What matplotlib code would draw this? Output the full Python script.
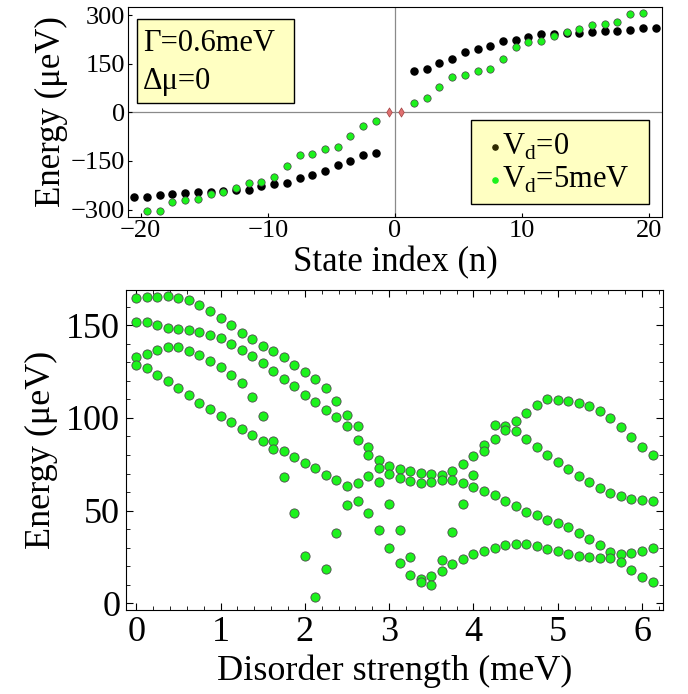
import numpy as np
import matplotlib
matplotlib.use('Agg')
import matplotlib.pyplot as plt
from matplotlib.patches import Rectangle
from matplotlib.ticker import MultipleLocator

plt.rcParams['font.family'] = ['Liberation Serif', 'DejaVu Serif']
plt.rcParams['mathtext.fontset'] = 'custom'
plt.rcParams['mathtext.rm'] = 'Liberation Serif'

# ---- top panel: energy spectrum vs state index ----
# states sit at half-integer indices, the two zero modes at +-0.5
n_black_neg = np.arange(-20.5, -1.0, 1.0)
n_black_pos = np.arange(1.5, 21.0, 1.0)
n_green_neg = np.arange(-19.5, -1.0, 1.0)
n_green_pos = np.arange(1.5, 20.0, 1.0)
n_zero = [-0.5, 0.5]

E_black_neg = [-260, -260, -255, -251, -249, -247, -245, -243, -241, -239,
               -226, -222, -217, -203, -193, -182, -164, -150, -131, -126]
E_black_pos = [128, 133, 152, 165, 185, 195, 205, 219, 222, 231,
               242, 243, 245, 244, 249, 251, 252, 255, 260, 261]
E_green_neg = [-303, -303, -276, -270, -268, -252, -245, -235, -219, -216,
               -200, -165, -131, -128, -114, -106, -74, -42, -27]
E_green_pos = [28, 43, 78, 110, 114, 129, 133, 166, 202, 217,
               221, 237, 247, 258, 270, 272, 279, 304, 306]
E_zero = [0, 0]

# ---- bottom panel: lowest four levels vs disorder strength ----
disorder = np.arange(50) * 0.125  # meV

level1 = [164.9, 165.2, 165.4, 165.8, 164.9, 163.4, 160.7, 157.7, 154.1, 150.1,
          145.9, 142.7, 138.9, 136.0, 132.8, 128.6, 124.7, 121.1, 116.0, 109.4,
          101.8, 95.5, 84.5, 77.1, 73.9, 72.4, 71.5, 70.3, 69.7, 69.0,
          71.5, 75.1, 79.6, 85.2, 96.0, 95.9, 98.2, 102.7, 107.2, 110.3,
          109.9, 109.0, 108.1, 106.7, 104.0, 100.0, 95.1, 89.5, 84.5, 80.2]
level2 = [151.7, 151.7, 150.3, 148.6, 148.1, 147.4, 146.3, 144.7, 142.9, 139.8,
          136.6, 133.3, 129.4, 125.2, 121.1, 117.1, 112.6, 108.7, 104.5, 100.4,
          95.5, 87.9, 80.2, 73.0, 69.7, 67.6, 65.8, 64.7, 65.4, 66.8,
          66.8, 65.0, 69.0, 82.3, 88.6, 93.3, 92.8, 88.8, 84.5, 80.2,
          76.4, 72.4, 68.5, 65.2, 62.2, 59.5, 57.7, 56.2, 55.5, 55.3]
level3 = [133.0, 134.6, 136.9, 138.2, 138.0, 136.2, 133.7, 130.6, 127.4, 123.4,
          118.6, 111.2, 101.1, 87.7, 82.3, 78.7, 75.7, 72.8, 69.4, 66.5,
          63.2, 65.0, 68.5, 65.6, 53.7, 39.5, 24.9, 13.0, 15.0, 23.2,
          38.7, 53.7, 62.9, 60.7, 58.2, 55.3, 52.3, 49.5, 47.4, 45.2,
          43.2, 41.1, 38.2, 34.8, 31.4, 27.7, 26.5, 27.0, 28.3, 29.7]
level4 = [128.8, 127.0, 123.4, 119.8, 115.9, 112.3, 108.3, 104.7, 101.1, 97.8,
          94.2, 90.8, 87.7, 83.1, 67.9, 48.6, 25.4, 3.4, 18.6, 38.0,
          52.8, 55.0, 48.5, 39.5, 29.9, 22.0, 15.3, 11.7, 9.9, 17.5,
          21.1, 23.8, 26.5, 28.5, 30.1, 31.5, 31.9, 31.9, 30.8, 29.5,
          28.3, 26.7, 25.6, 24.9, 24.7, 24.3, 22.2, 18.2, 14.4, 11.7]

green = '#1cf21c'
box_yellow = '#ffffc2'

fig = plt.figure(figsize=(6.88, 6.94), dpi=100)

# top axes
ax1 = fig.add_axes([0.1860, 0.6873, 0.7762, 0.3026])
ax1.axhline(0, color='#8a8a8a', lw=0.9, zorder=1)
ax1.axvline(0, color='#8a8a8a', lw=0.9, zorder=1)
ax1.scatter(n_black_neg, E_black_neg, s=26, color='black', zorder=3)
ax1.scatter(n_black_pos, E_black_pos, s=26, color='black', zorder=3)
ax1.scatter(n_green_neg, E_green_neg, s=28, color=green, edgecolors='#444444',
            linewidths=0.5, zorder=4)
ax1.scatter(n_green_pos, E_green_pos, s=28, color=green, edgecolors='#444444',
            linewidths=0.5, zorder=4)
ax1.scatter(n_zero, E_zero, s=22, marker='d', color='#e07070', edgecolors='#a04040',
            linewidths=0.5, zorder=5)
ax1.set_xlim(-21, 21)
ax1.set_ylim(-323, 325)
ax1.set_xticks([-20, -10, 0, 10, 20])
ax1.set_yticks([-300, -150, 0, 150, 300])
ax1.tick_params(direction='in', length=3, labelsize=19, pad=2)
ax1.set_xlabel('State index (n)', fontsize=25, labelpad=3)
ax1.set_ylabel('Energy (μeV)', fontsize=25, labelpad=2)

# parameter box
ax1.add_patch(Rectangle((0.017, 0.543), 0.294, 0.40, transform=ax1.transAxes,
                        facecolor=box_yellow, edgecolor='black', lw=1.0, zorder=6))
ax1.text(0.028, 0.824, 'Γ=0.6meV', transform=ax1.transAxes, fontsize=22,
         va='center', ha='left', zorder=7)
ax1.text(0.028, 0.643, 'Δμ=0', transform=ax1.transAxes, fontsize=22,
         va='center', ha='left', zorder=7)

# legend box
ax1.add_patch(Rectangle((0.642, 0.062), 0.334, 0.40, transform=ax1.transAxes,
                        facecolor=box_yellow, edgecolor='black', lw=1.0, zorder=6))
ax1.scatter([0.688], [0.335], s=14, color='#2e2a00', transform=ax1.transAxes, zorder=7)
ax1.scatter([0.688], [0.176], s=14, color=green, transform=ax1.transAxes, zorder=7)
ax1.text(0.700, 0.335, r'V$_{\mathrm{d}}$=0', transform=ax1.transAxes, fontsize=22,
         va='center', ha='left', zorder=7)
ax1.text(0.700, 0.176, r'V$_{\mathrm{d}}$=5meV', transform=ax1.transAxes, fontsize=22,
         va='center', ha='left', zorder=7)

# bottom axes
ax2 = fig.add_axes([0.1827, 0.1210, 0.7805, 0.4611])
for lev in [level1, level2, level3, level4]:
    ax2.scatter(disorder, lev, s=44, color=green, edgecolors='#4a4a4a',
                linewidths=0.6, zorder=3)
ax2.set_xlim(-0.125, 6.245)
ax2.set_ylim(-3.6, 169)
ax2.set_xticks([0, 1, 2, 3, 4, 5, 6])
ax2.set_yticks([0, 50, 100, 150])
ax2.xaxis.set_minor_locator(MultipleLocator(0.2))
ax2.yaxis.set_minor_locator(MultipleLocator(10))
ax2.tick_params(which='both', direction='in', top=True, right=True, labelsize=26, pad=4)
ax2.tick_params(which='major', length=5)
ax2.tick_params(which='minor', length=3)
ax2.set_xlabel('Disorder strength (meV)', fontsize=26, labelpad=4)
ax2.set_ylabel('Energy (μeV)', fontsize=26, labelpad=6)

plt.savefig('out.png', dpi=100)
